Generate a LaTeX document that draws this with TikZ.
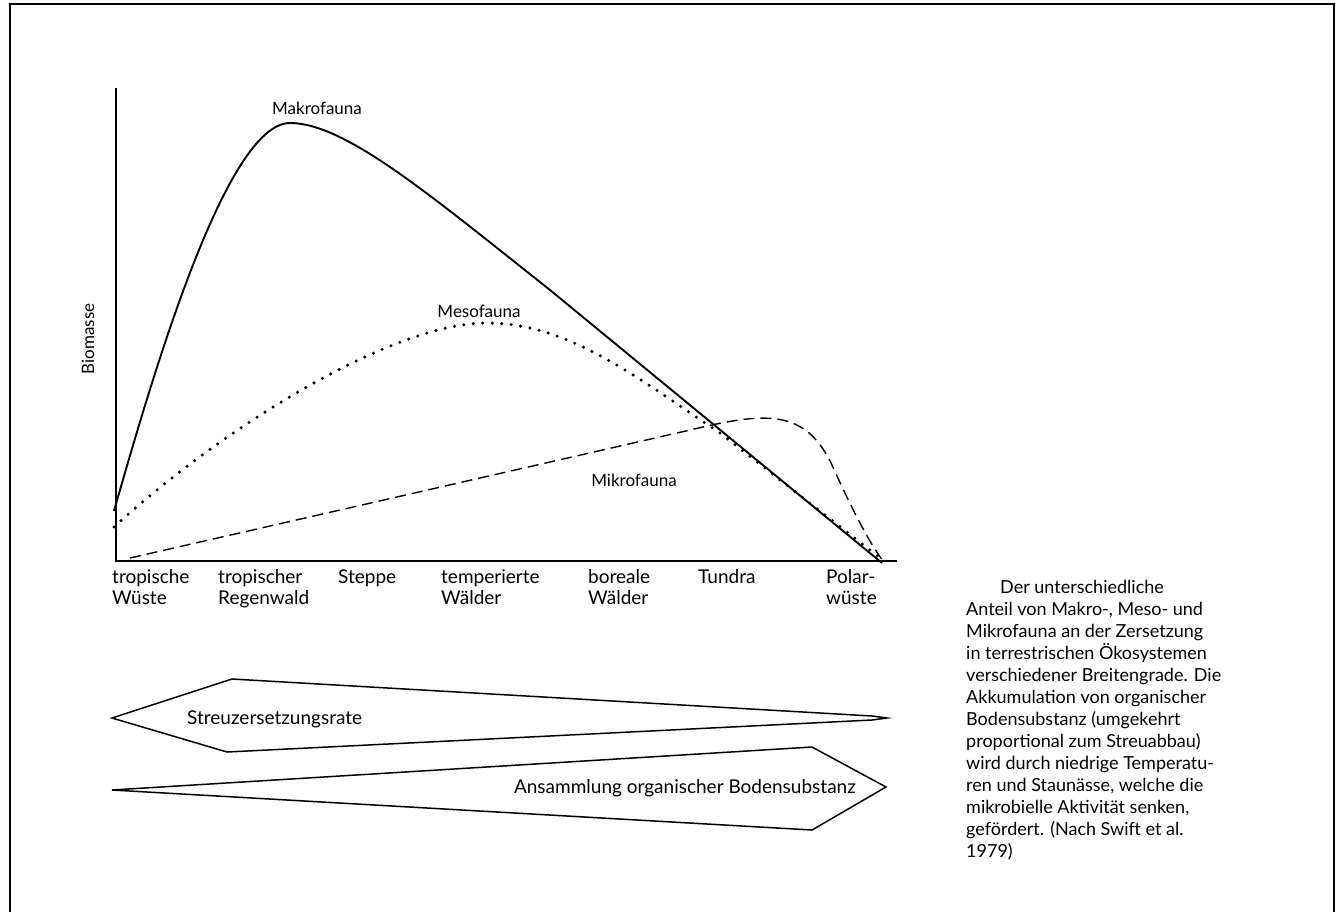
\documentclass[tikz,border=0pt]{standalone}
\usepackage{fontspec}
\setmainfont{Lato}
\begin{document}
\begin{tikzpicture}[x=1pt,y=-1pt,
  frame/.style={line width=1.8pt},
  axis/.style={line width=1.6pt},
  macro/.style={line width=1.9pt, line join=round},
  meso/.style={line width=3.4pt, line cap=round, dash pattern=on 0pt off 9.5pt},
  micro/.style={line width=1.4pt, dash pattern=on 11pt off 6pt},
  band/.style={line width=1.5pt, line join=miter},
  xlbl/.style={inner sep=0pt, font=\fontsize{19}{21}\selectfont, align=left, anchor=base west},
  clbl/.style={inner sep=0pt, font=\fontsize{17}{20}\selectfont},
  blbl/.style={inner sep=0pt, font=\fontsize{19}{21}\selectfont},
  caption/.style={inner sep=0pt, font=\fontsize{18}{22}\selectfont, align=left, anchor=base west},
]
\useasboundingbox[fill=white] (0,0) rectangle (1343,911);

% outer frame (open at the bottom)
\draw[frame] (10,915) -- (10,4) -- (1334,4) -- (1334,915);

% axes
\coordinate (ytop) at (116,88);
\coordinate (orig) at (116,561);
\coordinate (xend) at (897,561);
\draw[axis] (ytop) -- (orig) -- (xend);
\node[clbl, rotate=90] (biomasse) at (88,339) {Biomasse};

% macrofauna
\draw[macro] (114,511) .. controls (150,385) and (225,123) .. (290,123)
  .. controls (345,123) and (430,195) .. (550,290) -- (882,563);
% mesofauna
\draw[meso] (114,527) .. controls (220,430) and (390,323) .. (487,323)
  .. controls (570,323) and (640,380) .. (720,433) -- (884,561);
% microfauna
\draw[micro] (130,558) -- (690,430) .. controls (765,412) and (805,408) .. (832,465)
  .. controls (850,505) and (870,545) .. (884,562);

\node[clbl] (makro) at (317,108) {Makrofauna};
\node[clbl] (meso) at (479,311) {Mesofauna};
\node[clbl] (mikro) at (634,480) {Mikrofauna};

% zones along the x axis (two-line labels sit on their second baseline)
\node[xlbl] (tw) at (112,604) {tropische\\Wüste};
\node[xlbl] (tr) at (218,604) {tropischer\\Regenwald};
\node[xlbl] (st) at (338,583) {Steppe};
\node[xlbl] (tp) at (441,604) {temperierte\\Wälder};
\node[xlbl] (bw) at (588,604) {boreale\\Wälder};
\node[xlbl] (tu) at (698,583) {Tundra};
\node[xlbl] (pw) at (826,604) {Polar-\\wüste};

% tapering bands
\draw[band] (112,718) -- (232,679) -- (872,716) -- (887,718) -- (872,720) -- (227,752) -- cycle;
\node[blbl, anchor=west] (streu) at (187,719) {Streuzersetzungsrate};
\draw[band] (112,790) -- (812,747) -- (886,787) -- (812,830) -- cycle;
\node[blbl, anchor=east] (ansa) at (856,788) {Ansammlung organischer Bodensubstanz};

% caption (anchored on the baseline of its last line)
\node[caption] (cap) at (966,857) {\hspace*{34pt}Der unterschiedliche\\
Anteil von Makro-, Meso- und\\
Mikrofauna an der Zersetzung\\
in terrestrischen Ökosystemen\\
verschiedener Breitengrade. Die\\
Akkumulation von organischer\\
Bodensubstanz (umgekehrt\\
proportional zum Streuabbau)\\
wird durch niedrige Temperatu-\\
ren und Staunässe, welche die\\
mikrobielle Aktivität senken,\\
gefördert. (Nach Swift et al.\\
1979)};
\end{tikzpicture}
\end{document}
